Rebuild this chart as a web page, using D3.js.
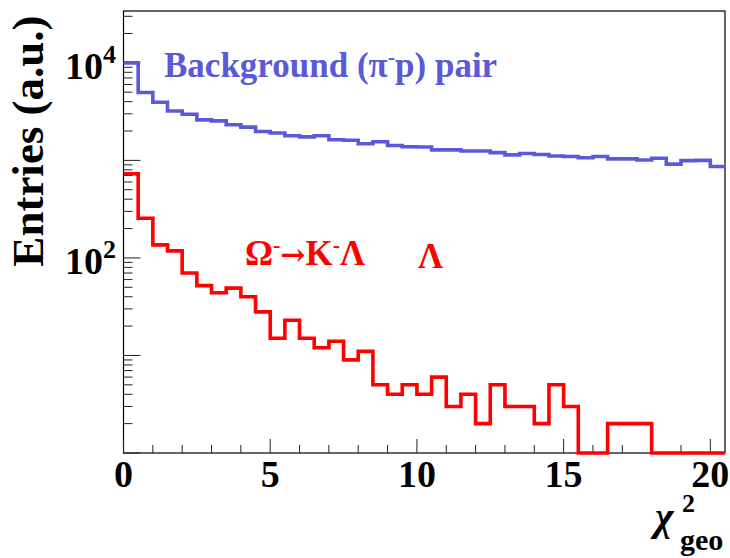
<!DOCTYPE html>
<html>
<head>
<meta charset="utf-8">
<script src="https://cdn.jsdelivr.net/npm/d3@7"></script>
<style>
  html, body { margin: 0; padding: 0; background: #ffffff; }
  svg text { font-family: "Liberation Serif", "Times New Roman", serif; font-weight: bold; }
</style>
</head>
<body>
<svg id="chart" width="730" height="558"></svg>
<script>
// Lower edge of every chi2_geo bin (bin width 0.5)
const binStarts = [0, 0.5, 1, 1.5, 2, 2.5, 3, 3.5, 4, 4.5, 5, 5.5, 6, 6.5, 7, 7.5, 8, 8.5, 9, 9.5,
                   10, 10.5, 11, 11.5, 12, 12.5, 13, 13.5, 14, 14.5, 15, 15.5, 16, 16.5, 17, 17.5, 18, 18.5, 19, 19.5, 20];
const xUpper = 20.5;

// Background (pi- p) pair entries per bin
const backgroundCounts = [10000, 4970, 3940, 3210, 2970, 2600, 2540, 2320, 2190, 1980,
                          1910, 1790, 1740, 1790, 1630, 1610, 1480, 1550, 1420, 1380,
                          1370, 1280, 1280, 1250, 1250, 1200, 1140, 1175, 1150, 1110,
                          1095, 1065, 1095, 1035, 1035, 1010, 1050, 915, 995, 1000, 865];

// Omega- -> K- Lambda signal entries per bin
const signalCounts = [730, 255, 136, 118, 70, 52, 44, 49, 40, 28,
                      15, 23, 15, 12, 14, 9, 11, 5, 4, 5,
                      4, 6, 3, 4, 2, 5, 3, 3, 2, 5,
                      3, 1, 1, 2, 2, 2, 1, 1, 1, 1, 1];

// Axis tick values and labels
const xMajorTicks = [0, 5, 10, 15, 20];
const xTickLabels = ["0", "5", "10", "15", "20"];
const xMinorTicks = [1, 2, 3, 4, 6, 7, 8, 9, 11, 12, 13, 14, 16, 17, 18, 19];
const yLabelExponents = [2, 4];
const yDomain = [1, 34000];

const frame = { left: 123.5, right: 725, top: 11, bottom: 453 };
const blue = "#5959d9";
const red = "#ff0000";

const svg = d3.select("#chart");

const x = d3.scaleLinear().domain([0, xUpper]).range([frame.left, frame.right]);
const y = d3.scaleLog().domain(yDomain).range([frame.bottom, frame.top]);

// Frame
svg.append("rect")
  .attr("x", frame.left).attr("y", frame.top)
  .attr("width", frame.right - frame.left).attr("height", frame.bottom - frame.top)
  .attr("fill", "none").attr("stroke", "#000").attr("stroke-width", 1.2);

// Y ticks (drawn inside the frame)
const yTicks = y.ticks();
svg.append("g").selectAll("line").data(yTicks).join("line")
  .attr("x1", frame.left)
  .attr("x2", d => frame.left + (Number.isInteger(Math.log10(d)) ? 17 : 9))
  .attr("y1", d => y(d)).attr("y2", d => y(d))
  .attr("stroke", "#222").attr("stroke-width", 1);

// X ticks (drawn inside the frame)
svg.append("g").selectAll("line").data(xMajorTicks.concat(xMinorTicks)).join("line")
  .attr("x1", d => x(d)).attr("x2", d => x(d))
  .attr("y1", frame.bottom)
  .attr("y2", d => frame.bottom - (xMajorTicks.includes(d) ? 14 : 8))
  .attr("stroke", "#222").attr("stroke-width", 1);

// X tick labels
svg.append("g").selectAll("text").data(xMajorTicks).join("text")
  .attr("x", d => x(d)).attr("y", 487)
  .attr("text-anchor", "middle").attr("font-size", 38)
  .text((d, i) => xTickLabels[i]);

// Y tick labels 10^n
const yl = svg.append("g").selectAll("text").data(yLabelExponents).join("text")
  .attr("x", 116).attr("y", d => y(Math.pow(10, d)) + 16.5)
  .attr("text-anchor", "end").attr("font-size", 38);
yl.append("tspan").text("10");
yl.append("tspan").attr("font-size", 26).attr("dy", -16).text(d => d);

// Y axis title
svg.append("text")
  .attr("transform", "translate(43,141) rotate(-90)")
  .attr("text-anchor", "middle").attr("font-size", 45)
  .text("Entries (a.u.)");

// X axis title chi^2_geo
svg.append("text").attr("x", 655).attr("y", 530).attr("font-size", 40)
  .attr("font-style", "italic").text("χ");
svg.append("text").attr("x", 682).attr("y", 512).attr("font-size", 26).text("2");
svg.append("text").attr("x", 680).attr("y", 550).attr("font-size", 30).text("geo");

// Histogram step outlines
const step = d3.line()
  .x(d => x(d[0]))
  .y(d => y(d[1]))
  .curve(d3.curveStepAfter);

function histPoints(counts) {
  const pts = binStarts.map((b, i) => [b, counts[i]]);
  pts.push([xUpper, counts[counts.length - 1]]);
  return pts;
}

svg.append("path")
  .attr("d", step(histPoints(backgroundCounts)))
  .attr("fill", "none").attr("stroke", blue).attr("stroke-width", 3.6)
  .attr("stroke-linejoin", "miter");

svg.append("path")
  .attr("d", step(histPoints(signalCounts)))
  .attr("fill", "none").attr("stroke", red).attr("stroke-width", 3.6)
  .attr("stroke-linejoin", "miter");

// Legend texts
const bg = svg.append("text").attr("x", 164).attr("y", 77).attr("font-size", 35).attr("fill", blue);
bg.append("tspan").text("Background (π");
bg.append("tspan").attr("font-size", 22).attr("dy", -13).text("-");
bg.append("tspan").attr("dy", 13).text("p) pair");

const sig = svg.append("text").attr("x", 245).attr("y", 265).attr("font-size", 35).attr("fill", red);
sig.append("tspan").text("Ω");
sig.append("tspan").attr("font-size", 22).attr("dy", -13).text("-");
sig.append("tspan").attr("dy", 13).attr("font-family", "DejaVu Serif").attr("font-size", 30).text("→");
sig.append("tspan").text("K");
sig.append("tspan").attr("font-size", 22).attr("dy", -13).text("-");
sig.append("tspan").attr("dy", 13).text("Λ");

svg.append("text").attr("x", 418).attr("y", 268).attr("font-size", 35).attr("fill", red).text("Λ");
</script>
</body>
</html>
